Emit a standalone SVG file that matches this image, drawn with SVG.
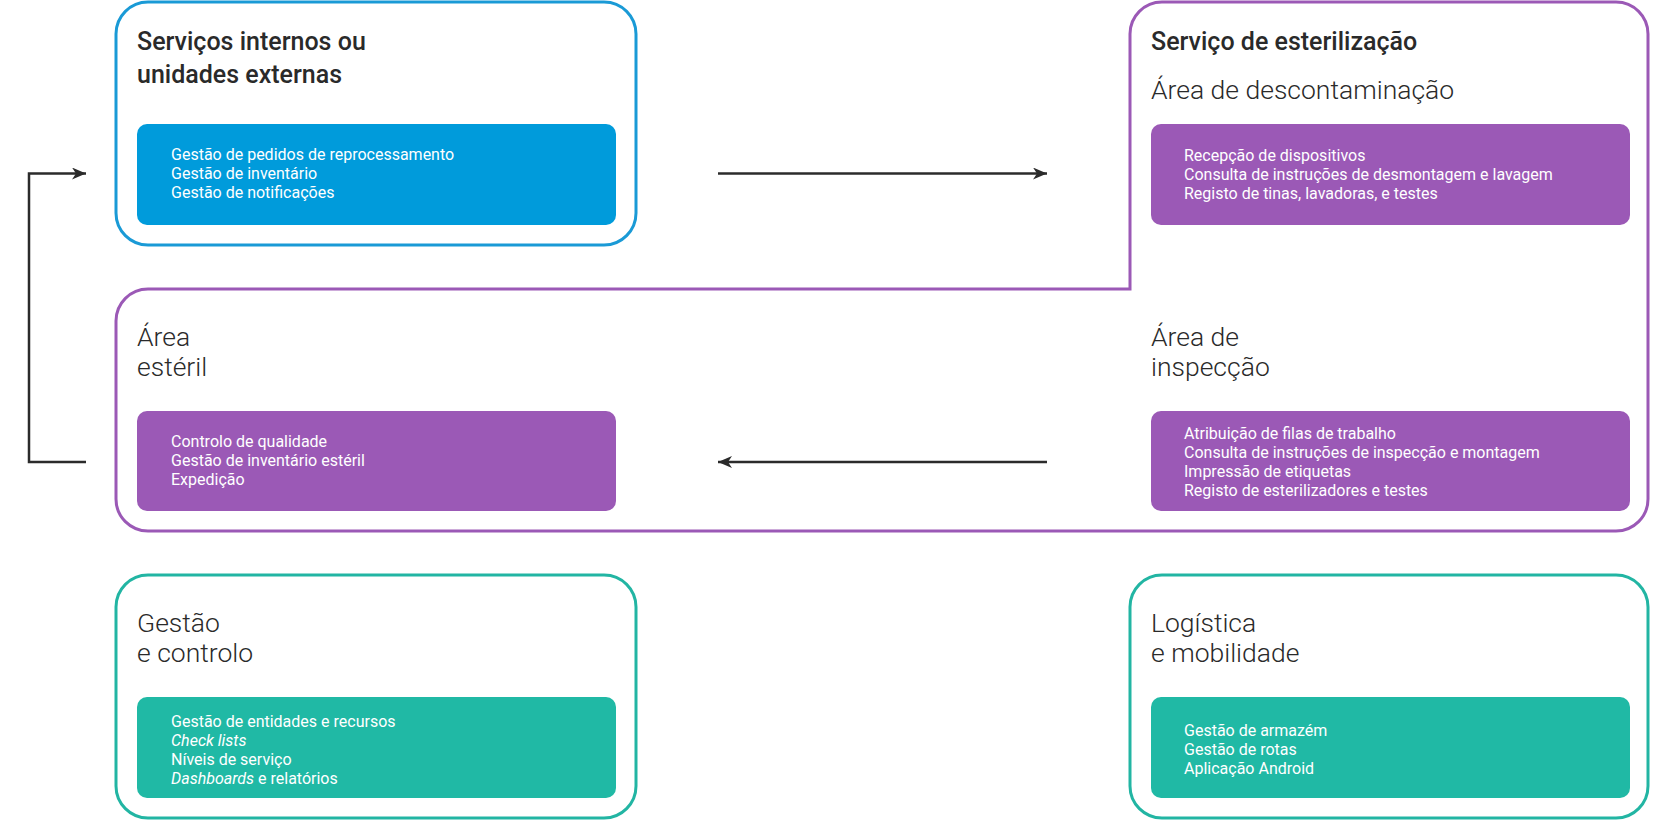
<svg xmlns="http://www.w3.org/2000/svg" width="1680" height="822" viewBox="0 0 1680 822">
<style>
.title{font-family:Roboto,"Liberation Sans",sans-serif;font-size:25px;font-weight:500;fill:#2a2a2a}
.area{font-family:Roboto,"Liberation Sans",sans-serif;font-size:26.5px;font-weight:300;fill:#2a2a2a}
.item{font-family:Roboto,"Liberation Sans",sans-serif;font-size:16px;font-weight:400;fill:#ffffff}
.it{font-style:italic}
.conn{fill:none;stroke:#2b2b2b;stroke-width:2.5}
.ob{fill:#ffffff;stroke:#1a9ad6;stroke-width:3}
.op{fill:none;stroke:#9b59b6;stroke-width:3}
.ot{fill:#ffffff;stroke:#22b5a3;stroke-width:3}
.ib{fill:#009bdb}
.ip{fill:#9b59b6}
.itl{fill:#20b9a5}
</style>
<defs>
<marker id="ah" viewBox="0 0 14 12" refX="14" refY="6" markerWidth="14" markerHeight="12" markerUnits="userSpaceOnUse" orient="auto">
<path d="M0,0 L14,6 L0,12 L4,6 Z" fill="#2b2b2b"/>
</marker>
</defs>
<rect width="1680" height="822" fill="#ffffff"/>

<g id="servicos-internos">
<rect class="ob" x="116" y="2" width="520" height="243" rx="32"/>
<rect class="ib" x="137" y="124" width="479" height="101" rx="10"/>
<text class="title" x="137" y="50">Serviços internos ou</text>
<text class="title" x="137" y="83">unidades externas</text>
<text class="item" x="171" y="160">Gestão de pedidos de reprocessamento</text>
<text class="item" x="171" y="179">Gestão de inventário</text>
<text class="item" x="171" y="198">Gestão de notificações</text>
</g>

<g id="servico-esterilizacao">
<path class="op" d="M1130 289 L1130 34 A32 32 0 0 1 1162 2 L1616 2 A32 32 0 0 1 1648 34 L1648 499 A32 32 0 0 1 1616 531 L148 531 A32 32 0 0 1 116 499 L116 321 A32 32 0 0 1 148 289 Z"/>
<text class="title" x="1151" y="50">Serviço de esterilização</text>
</g>

<g id="area-descontaminacao">
<text class="area" x="1151" y="99">Área de descontaminação</text>
<rect class="ip" x="1151" y="124" width="479" height="101" rx="10"/>
<text class="item" x="1184" y="161">Recepção de dispositivos</text>
<text class="item" x="1184" y="180">Consulta de instruções de desmontagem e lavagem</text>
<text class="item" x="1184" y="199">Registo de tinas, lavadoras, e testes</text>
</g>

<g id="area-esteril">
<text class="area" x="137" y="346">Área</text>
<text class="area" x="137" y="376">estéril</text>
<rect class="ip" x="137" y="411" width="479" height="100" rx="10"/>
<text class="item" x="171" y="447">Controlo de qualidade</text>
<text class="item" x="171" y="466">Gestão de inventário estéril</text>
<text class="item" x="171" y="485">Expedição</text>
</g>

<g id="area-inspeccao">
<text class="area" x="1151" y="346">Área de</text>
<text class="area" x="1151" y="376">inspecção</text>
<rect class="ip" x="1151" y="411" width="479" height="100" rx="10"/>
<text class="item" x="1184" y="439">Atribuição de filas de trabalho</text>
<text class="item" x="1184" y="458">Consulta de instruções de inspecção e montagem</text>
<text class="item" x="1184" y="477">Impressão de etiquetas</text>
<text class="item" x="1184" y="496">Registo de esterilizadores e testes</text>
</g>

<g id="gestao-controlo">
<rect class="ot" x="116" y="575" width="520" height="243" rx="32"/>
<rect class="itl" x="137" y="697" width="479" height="101" rx="10"/>
<text class="area" x="137" y="632">Gestão</text>
<text class="area" x="137" y="662">e controlo</text>
<text class="item" x="171" y="727">Gestão de entidades e recursos</text>
<text class="item it" x="171" y="746">Check lists</text>
<text class="item" x="171" y="765">Níveis de serviço</text>
<text class="item" x="171" y="784"><tspan class="it">Dashboards</tspan> e relatórios</text>
</g>

<g id="logistica-mobilidade">
<rect class="ot" x="1130" y="575" width="518" height="243" rx="32"/>
<rect class="itl" x="1151" y="697" width="479" height="101" rx="10"/>
<text class="area" x="1151" y="632">Logística</text>
<text class="area" x="1151" y="662">e mobilidade</text>
<text class="item" x="1184" y="736">Gestão de armazém</text>
<text class="item" x="1184" y="755">Gestão de rotas</text>
<text class="item" x="1184" y="774">Aplicação Android</text>
</g>

<g id="connectors">
<line class="conn" x1="718" y1="173.5" x2="1047" y2="173.5" marker-end="url(#ah)"/>
<line class="conn" x1="1047" y1="462" x2="718" y2="462" marker-end="url(#ah)"/>
<polyline class="conn" points="86,462 29,462 29,173.5 86,173.5" marker-end="url(#ah)"/>
</g>
</svg>
